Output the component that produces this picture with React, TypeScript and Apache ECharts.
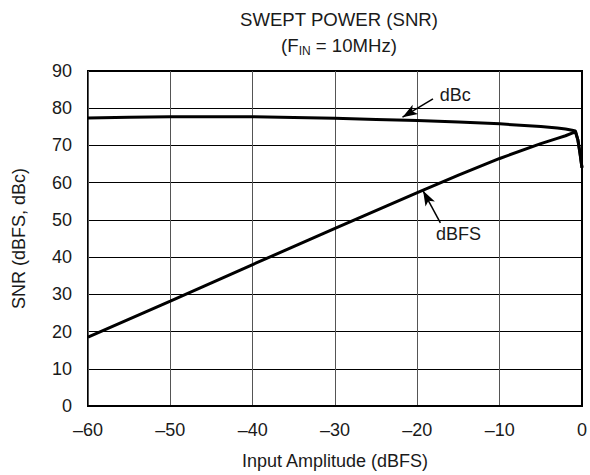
import React, { useEffect, useRef } from "react";
import * as echarts from "echarts";

const xTicks = [-60, -50, -40, -30, -20, -10, 0];
const dbcX = [-60, -55, -50, -45, -40, -35, -30, -25, -20, -15, -10, -5, -3, -2, -1.2, -0.8, -0.5, -0.25, 0];
const dbcY = [77.4, 77.6, 77.7, 77.7, 77.7, 77.5, 77.3, 77.0, 76.7, 76.3, 75.8, 75.1, 74.7, 74.4, 74.1, 73.9, 71.5, 68, 64];
const dbfsX = [-60, -50, -40, -30, -20, -15, -10, -5, -3, -2, -1.2, -0.8, -0.5, -0.25, 0];
const dbfsY = [18.5, 28.2, 38.0, 47.7, 57.3, 62.0, 66.5, 70.5, 71.9, 72.6, 73.3, 73.6, 71.5, 68, 64];
const arrowDbc = { from: [-18.1, 82.5], to: [-21.8, 77.6], label: [-15.4, 83.6], text: "dBc" };
const arrowDbfs = { from: [-17.2, 49.2], to: [-19.3, 57.8], label: [-15.0, 46.2], text: "dBFS" };

const FONT = "Liberation Sans, Arial, sans-serif";
const FS = 18;
const TXT = "#1a1a1a";

function fmtTick(v: number) {
  return v < 0 ? "\u2013" + Math.abs(v) : String(v);
}

export default function App() {
  const ref = useRef<HTMLDivElement>(null);
  useEffect(() => {
    const chart = echarts.init(ref.current!, null, { renderer: "svg" });
    const arrowLine = (a: any) => ({
      type: "line",
      data: [],
      markLine: {
        silent: true,
        symbol: ["none", "arrow"],
        symbolSize: [8, 15],
        lineStyle: { color: "#000", width: 1.5, type: "solid" },
        label: { show: false },
        data: [[{ coord: a.from }, { coord: a.to }]],
      },
      markPoint: {
        silent: true,
        symbol: "circle",
        symbolSize: 0,
        label: {
          show: true,
          formatter: a.text,
          color: TXT,
          fontSize: FS,
          fontFamily: FONT,
        },
        data: [{ coord: a.label }],
      },
    });
    chart.setOption({
      animation: false,
      backgroundColor: "#fff",
      title: {
        text: "{a|SWEPT POWER (SNR)}\n{a|(F}{s|IN}{a| = 10MHz)}",
        left: 334,
        top: 1,
        textAlign: "center",
        textStyle: {
          fontWeight: "normal",
          rich: {
            a: { fontSize: 18.6, fontFamily: FONT, color: TXT, lineHeight: 26, fontWeight: "normal" },
            s: { fontSize: 12, fontFamily: FONT, color: TXT, lineHeight: 26, fontWeight: "normal", padding: [12, 0, 0, 0] },
          },
        },
      },
      grid: {
        left: 88,
        right: 7,
        top: 71,
        bottom: 69,
        show: true,
        borderColor: "#000",
        borderWidth: 2,
        containLabel: false,
      },
      xAxis: {
        type: "value",
        min: -60,
        max: 0,
        interval: 10,
        name: "Input Amplitude (dBFS)",
        nameLocation: "middle",
        nameGap: 46,
        nameTextStyle: { fontSize: FS, fontFamily: FONT, color: TXT },
        axisLine: { show: true, lineStyle: { color: "#000", width: 2 } },
        axisTick: { show: false },
        axisLabel: {
          fontSize: FS,
          fontFamily: FONT,
          color: TXT,
          margin: 15,
          formatter: (v: number) => (xTicks.includes(v) ? fmtTick(v) : ""),
        },
        splitLine: { show: true, lineStyle: { color: "#555", width: 1 } },
      },
      yAxis: {
        type: "value",
        min: 0,
        max: 90,
        interval: 10,
        name: "SNR (dBFS, dBc)",
        nameLocation: "middle",
        nameGap: 60,
        nameTextStyle: { fontSize: FS, fontFamily: FONT, color: TXT },
        axisLine: { show: true, lineStyle: { color: "#000", width: 2 } },
        axisTick: { show: false },
        axisLabel: { fontSize: FS, fontFamily: FONT, color: TXT, margin: 16 },
        splitLine: { show: true, lineStyle: { color: "#000", width: 1 } },
      },
      series: [
        {
          type: "line",
          name: "dBc",
          data: dbcX.map((x, i) => [x, dbcY[i]]),
          showSymbol: false,
          smooth: false,
          lineStyle: { color: "#000", width: 3 },
        },
        {
          type: "line",
          name: "dBFS",
          data: dbfsX.map((x, i) => [x, dbfsY[i]]),
          showSymbol: false,
          smooth: false,
          lineStyle: { color: "#000", width: 3 },
        },
        arrowLine(arrowDbc),
        arrowLine(arrowDbfs),
      ],
    });
    return () => chart.dispose();
  }, []);
  return <div ref={ref} style={{ width: 590, height: 475, position: "absolute", left: 0, top: 0 }} />;
}
